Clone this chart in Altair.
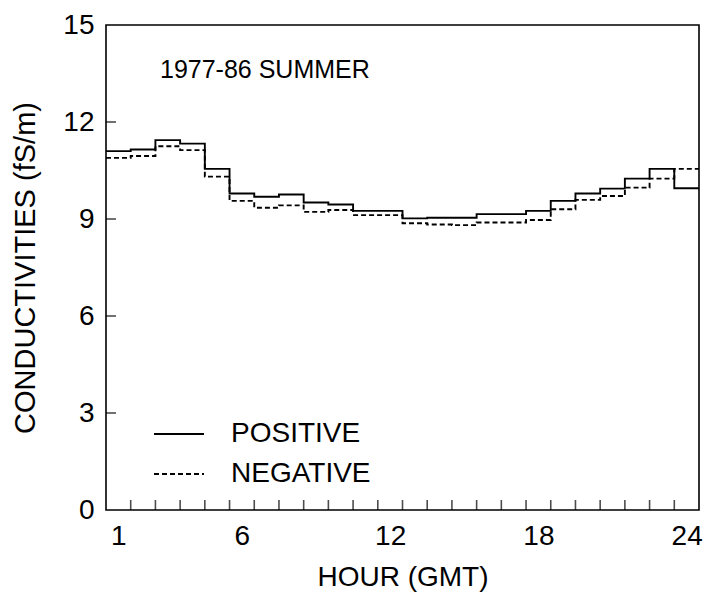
import altair as alt
import pandas as pd

hours = list(range(1, 25))
positive = [11.10, 11.15, 11.44, 11.33, 10.55, 9.79, 9.69, 9.76, 9.51, 9.45,
            9.25, 9.25, 9.02, 9.04, 9.04, 9.15, 9.15, 9.25, 9.56, 9.79,
            9.94, 10.25, 10.55, 9.95]
negative = [10.89, 10.95, 11.25, 11.13, 10.31, 9.56, 9.35, 9.42, 9.22, 9.28,
            9.12, 9.12, 8.87, 8.83, 8.81, 8.89, 8.89, 8.97, 9.30, 9.59,
            9.71, 9.97, 10.25, 10.55]
series_names = ["POSITIVE", "NEGATIVE"]
x_labels = [1, 6, 12, 18, 24]
y_labels = [0, 3, 6, 9, 12, 15]
title_text = "1977-86 SUMMER"

FONT = "Liberation Sans"
FS = 28
W, H = 593, 485

rows = []
for name, vals in zip(series_names, [positive, negative]):
    for h, v in zip(hours, vals):
        rows.append({"edge": h - 0.5, "value": v, "series": name})
    rows.append({"edge": hours[-1] + 0.5, "value": vals[-1], "series": name})
df = pd.DataFrame(rows)

xscale = alt.Scale(domain=[hours[0] - 0.5, hours[-1] + 0.5], nice=False, zero=False)
yscale = alt.Scale(domain=[y_labels[0], y_labels[-1]], nice=False)

lines = alt.Chart(df).mark_line(interpolate="step-after", color="black", strokeWidth=1.9).encode(
    x=alt.X("edge:Q", scale=xscale,
            axis=alt.Axis(values=x_labels, title="HOUR (GMT)", ticks=False, domain=False,
                          grid=False, labelFontSize=FS, titleFontSize=FS, labelFont=FONT,
                          titleFont=FONT, titleFontWeight="normal", labelColor="black",
                          titleColor="black", labelPadding=12, titlePadding=13)),
    y=alt.Y("value:Q", scale=yscale,
            axis=alt.Axis(values=y_labels, title="CONDUCTIVITIES (fS/m)", ticks=False,
                          domain=False, grid=False, labelFontSize=FS, titleFontSize=29,
                          labelFont=FONT, titleFont=FONT, titleFontWeight="normal",
                          labelColor="black", titleColor="black", labelPadding=12,
                          titlePadding=22)),
    strokeDash=alt.StrokeDash("series:N",
                              scale=alt.Scale(domain=series_names, range=[[1, 0], [5, 3]]),
                              legend=alt.Legend(title=None, orient="none", legendX=47,
                                                legendY=383, symbolType="stroke",
                                                symbolSize=2500, symbolStrokeWidth=1.9,
                                                symbolStrokeColor="black",
                                                labelFontSize=FS, labelFont=FONT,
                                                labelColor="black", labelOffset=26,
                                                rowPadding=0)),
    detail="series:N",
)

ytick_df = pd.DataFrame({"v": [v for v in y_labels if 0 < v < y_labels[-1]]})
yticks = alt.Chart(ytick_df).mark_tick(orient="horizontal", size=10, thickness=1.6, color="black").encode(
    y=alt.Y("v:Q", scale=yscale), x=alt.value(5))

xtick_df = pd.DataFrame({"v": [h + 0.5 for h in hours[:-1]]})
xticks = alt.Chart(xtick_df).mark_tick(orient="vertical", size=10, thickness=1.6, color="black").encode(
    x=alt.X("v:Q", scale=xscale), y=alt.value(H - 5))

label = alt.Chart(pd.DataFrame({"t": [title_text]})).mark_text(
    align="left", baseline="middle", font=FONT, fontSize=25, color="black").encode(
    text="t:N", x=alt.value(54), y=alt.value(45))

chart = alt.layer(lines, yticks, xticks, label).properties(
    width=W, height=H,
    autosize=alt.AutoSizeParams(type="none"),
    padding={"left": 106, "top": 25, "right": 5, "bottom": 82},
    background="white",
).configure_view(stroke="black", strokeWidth=1.6)

chart.save("out.html", embed_options={"renderer": "svg", "actions": False})
